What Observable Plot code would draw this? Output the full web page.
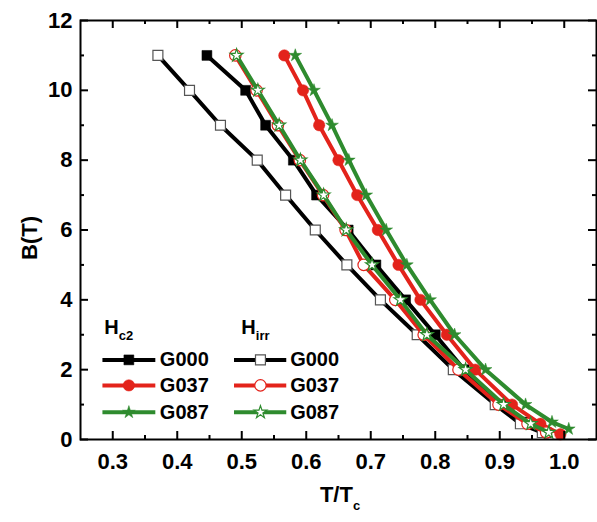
<!DOCTYPE html>
<html>
<head>
<meta charset="utf-8">
<script src="https://cdn.jsdelivr.net/npm/d3@7"></script>
<script src="https://cdn.jsdelivr.net/npm/@observablehq/plot@0.6"></script>
<style>
  html, body { margin: 0; padding: 0; background: #fff; }
  svg { font-family: "Liberation Sans", Arial, sans-serif; }
</style>
</head>
<body>
<div id="chart"></div>
<script>
// ---- data ----
const samples = ["G000", "G037", "G087"];
const sampleColors = ["#000000", "#e3231b", "#2e8b2e"];

// Hc2 (filled symbols)
const hc2_G000_B = [11, 10, 9, 8, 7, 6, 5, 4, 3, 2, 1, 0.5, 0.2];
const hc2_G000_T = [0.446, 0.506, 0.537, 0.580, 0.616, 0.665, 0.708, 0.754, 0.800, 0.845, 0.902, 0.942, 0.972];
const hc2_G037_B = [11, 10, 9, 8, 7, 6, 5, 4, 3, 2, 1, 0.45, 0.15];
const hc2_G037_T = [0.566, 0.595, 0.620, 0.650, 0.679, 0.711, 0.743, 0.777, 0.818, 0.862, 0.919, 0.963, 0.994];
const hc2_G087_B = [11, 10, 9, 8, 7, 6, 5, 4, 3, 2, 1, 0.5, 0.3];
const hc2_G087_T = [0.583, 0.612, 0.640, 0.666, 0.693, 0.724, 0.756, 0.792, 0.830, 0.878, 0.940, 0.981, 1.007];

// Hirr (open symbols)
const hirr_G000_B = [11, 10, 9, 8, 7, 6, 5, 4, 3, 2, 1, 0.45, 0.2];
const hirr_G000_T = [0.370, 0.419, 0.467, 0.524, 0.568, 0.614, 0.663, 0.715, 0.772, 0.828, 0.893, 0.932, 0.966];
const hirr_G037_B = [11, 10, 9, 8, 7, 6, 5, 4, 3, 2, 1, 0.45, 0.2];
const hirr_G037_T = [0.490, 0.523, 0.556, 0.590, 0.626, 0.661, 0.689, 0.738, 0.782, 0.836, 0.898, 0.943, 0.972];
const hirr_G087_B = [11, 10, 9, 8, 7, 6, 5, 4, 3, 2, 1, 0.45, 0.2];
const hirr_G087_T = [0.492, 0.525, 0.558, 0.591, 0.627, 0.662, 0.702, 0.746, 0.787, 0.847, 0.906, 0.948, 0.976];

// axis ticks
const xTicks = [0.3, 0.4, 0.5, 0.6, 0.7, 0.8, 0.9, 1.0];
const xMinorTicks = [0.35, 0.45, 0.55, 0.65, 0.75, 0.85, 0.95];
const yTicks = [0, 2, 4, 6, 8, 10, 12];
const yMinorTicks = [1, 3, 5, 7, 9, 11];
const xDomain = [0.25, 1.05];
const yDomain = [0, 12];

// legend layout (in data units of the chart)
const legendHeaders = [{name: "H", sub: "c2"}, {name: "H", sub: "irr"}];
const legendRowsB = [2.28, 1.55, 0.78];
const legendCol = [
  {x1: 0.284, xm: 0.325, x2: 0.366, xt: 0.373, xh: 0.310},
  {x1: 0.488, xm: 0.529, x2: 0.569, xt: 0.575, xh: 0.522}
];
const legendHeaderB = 3.0;

// ---- build tables ----
function rows(T, B) { return T.map((t, i) => ({T: t, B: B[i]})); }
const hc2 = [rows(hc2_G000_T, hc2_G000_B), rows(hc2_G037_T, hc2_G037_B), rows(hc2_G087_T, hc2_G087_B)];
const hirr = [rows(hirr_G000_T, hirr_G000_B), rows(hirr_G037_T, hirr_G037_B), rows(hirr_G087_T, hirr_G087_B)];

const symbols = ["square", "circle", "star"];
const sizes = [5.6, 5.7, 4.0];

const marks = [];
hc2.forEach((d, i) => {
  marks.push(Plot.line(d, {x: "T", y: "B", stroke: sampleColors[i], strokeWidth: 4}));
  marks.push(Plot.dot(d, {x: "T", y: "B", symbol: symbols[i], r: sizes[i], fill: sampleColors[i], stroke: sampleColors[i], strokeWidth: 0.5}));
});
hirr.forEach((d, i) => {
  marks.push(Plot.line(d, {x: "T", y: "B", stroke: sampleColors[i], strokeWidth: 4}));
  marks.push(Plot.dot(d, {x: "T", y: "B", symbol: symbols[i], r: sizes[i], fill: "white", stroke: i === 0 ? "#555" : sampleColors[i], strokeWidth: 1.2}));
});

// legend
legendCol.forEach((c, ci) => {
  samples.forEach((s, i) => {
    const y = legendRowsB[i];
    marks.push(Plot.link([{x1: c.x1, x2: c.x2, y}], {x1: "x1", x2: "x2", y1: "y", y2: "y", stroke: sampleColors[i], strokeWidth: 4}));
    marks.push(Plot.dot([{x: c.xm, y}], {x: "x", y: "y", symbol: symbols[i], r: sizes[i],
      fill: ci === 0 ? sampleColors[i] : "white",
      stroke: ci === 0 ? sampleColors[i] : (i === 0 ? "#555" : sampleColors[i]),
      strokeWidth: ci === 0 ? 0.5 : 1.2}));
    marks.push(Plot.text([{x: c.xt, y, t: s}], {x: "x", y: "y", text: "t", textAnchor: "start", fontSize: 20, fontWeight: "bold", fill: "black"}));
  });
});

// inward ticks (tick lengths expressed as fractions of the domain)
const xLen = xDomain[1] - xDomain[0], yLen = yDomain[1] - yDomain[0];
const tMaj = 8 / 419 * yLen, tMin = 4 / 419 * yLen;      // vertical tick lengths
const sMaj = 8 / 516 * xLen, sMin = 4 / 516 * xLen;      // horizontal tick lengths
const tickMarks = [
  Plot.ruleX(xTicks, {y1: yDomain[0], y2: yDomain[0] + tMaj, stroke: "black", strokeWidth: 2}),
  Plot.ruleX(xMinorTicks, {y1: yDomain[0], y2: yDomain[0] + tMin, stroke: "black", strokeWidth: 2}),
  Plot.ruleX(xTicks, {y1: yDomain[1], y2: yDomain[1] - tMaj, stroke: "black", strokeWidth: 2}),
  Plot.ruleX(xMinorTicks, {y1: yDomain[1], y2: yDomain[1] - tMin, stroke: "black", strokeWidth: 2}),
  Plot.ruleY(yTicks, {x1: xDomain[0], x2: xDomain[0] + sMaj, stroke: "black", strokeWidth: 2}),
  Plot.ruleY(yMinorTicks, {x1: xDomain[0], x2: xDomain[0] + sMin, stroke: "black", strokeWidth: 2}),
  Plot.ruleY(yTicks, {x1: xDomain[1], x2: xDomain[1] - sMaj, stroke: "black", strokeWidth: 2}),
  Plot.ruleY(yMinorTicks, {x1: xDomain[1], x2: xDomain[1] - sMin, stroke: "black", strokeWidth: 2})
];

const font = {fontSize: 22, fontWeight: "bold"};

const chart = Plot.plot({
  width: 597,
  height: 522,
  marginLeft: 80,
  marginRight: 1,
  marginTop: 20,
  marginBottom: 83,
  style: {fontFamily: "'Liberation Sans', Arial, sans-serif", background: "white", color: "black"},
  x: {domain: xDomain},
  y: {domain: yDomain},
  marks: [
    ...marks,
    Plot.axisX({anchor: "bottom", ticks: xTicks, tickFormat: d => d.toFixed(1), tickSize: 0, tickPadding: 14, ...font, label: null}),
    Plot.axisY({anchor: "left", ticks: yTicks, tickSize: 0, tickPadding: 8, ...font, label: null}),
    ...tickMarks,
    Plot.frame({stroke: "black", strokeWidth: 2})
  ]
});

// legend headers & axis titles with subscripts (real text)
const svg = d3.select(chart);
const xs = chart.scale("x"), ys = chart.scale("y");
legendHeaders.forEach((h, i) => {
  const t = svg.append("text")
    .attr("x", xs.apply(legendCol[i].xh))
    .attr("y", ys.apply(legendHeaderB))
    .attr("font-size", 20).attr("font-weight", "bold").attr("fill", "black");
  t.append("tspan").text(h.name);
  t.append("tspan").attr("font-size", 13).attr("dy", 6).text(h.sub);
});
const xl = svg.append("text")
  .attr("x", 340).attr("y", 502)
  .attr("text-anchor", "middle")
  .attr("font-size", 22).attr("font-weight", "bold").attr("fill", "black");
xl.append("tspan").text("T/T");
xl.append("tspan").attr("font-size", 13).attr("dy", 8).text("c");

svg.append("text")
  .attr("transform", "translate(37,238) rotate(-90)")
  .attr("text-anchor", "middle")
  .attr("font-size", 22).attr("font-weight", "bold").attr("fill", "black")
  .text("B(T)");

document.getElementById("chart").appendChild(chart);
</script>
</body>
</html>
